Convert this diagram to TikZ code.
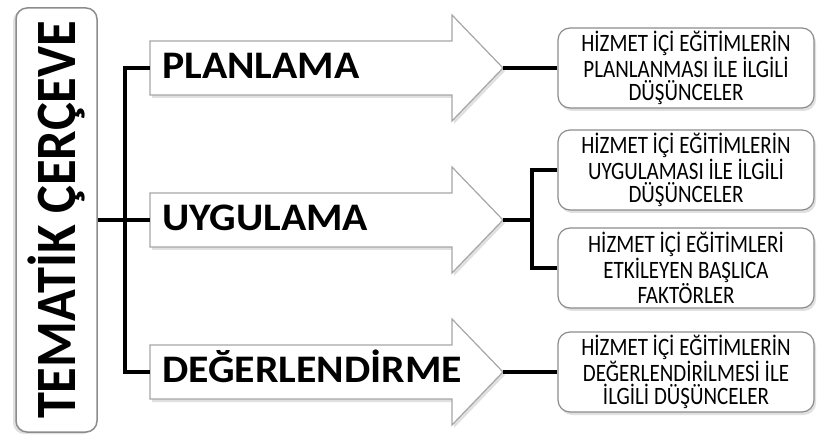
\documentclass[tikz,border=0pt]{standalone}
\usepackage{fontspec}
\setmainfont{Carlito}
\newfontfamily\stagefont[FakeStretch=1.07]{Carlito}
\newfontfamily\needfont[FakeStretch=0.84]{Carlito}
\newfontfamily\themefont[FakeStretch=0.92]{Carlito}
\usetikzlibrary{shadows}

% one big arrow: name, centre y, text
\newcommand{\stage}[3]{%
  \draw[stagearrow] (150,#2-27) -- (452,#2-27) -- (452,#2-53) -- (503,#2)
    -- (452,#2+53) -- (452,#2+27) -- (150,#2+27) -- cycle;
  \node[stagetext] (#1) at (162,#2+11) {#3};
  \coordinate (#1-tail) at (150,#2);
  \coordinate (#1-tip) at (503,#2);}

\tikzset{
  link/.style={line width=4pt, black},
  boxshadow/.style={drop shadow={shadow xshift=2pt, shadow yshift=-3pt, fill=black!40, opacity=0.3}},
  stagearrow/.style={draw=black!35, line width=1.2pt, fill=white, boxshadow},
  stagetext/.style={anchor=base west, inner sep=0pt, font=\stagefont\bfseries\fontsize{39}{44}\selectfont},
  needbox/.style={draw=black!45, line width=1.2pt, fill=white, rounded corners=12pt,
    minimum width=256pt, minimum height=80pt, align=center, boxshadow,
    font=\needfont\fontsize{25}{23}\selectfont},
  themebox/.style={draw=black!45, line width=1.5pt, fill=white, rounded corners=11pt,
    minimum width=424pt, minimum height=81pt, rotate=90,
    drop shadow={shadow xshift=-3pt, shadow yshift=-2pt, fill=black!40, opacity=0.3},
    font=\themefont\bfseries\fontsize{57}{60}\selectfont}
}

\begin{document}
\begin{tikzpicture}[x=1pt, y=-1pt]
\useasboundingbox (0,0) rectangle (817,438);

\node[themebox] (theme) at (56.5,220) {TEMATİK ÇERÇEVE};

\stage{plan}{68}{PLANLAMA}
\stage{uyg}{220}{UYGULAMA}
\stage{deg}{372}{DEĞERLENDİRME}

\node[needbox] (need1) at (686,68) {HİZMET İÇİ EĞİTİMLERİN\\PLANLANMASI İLE İLGİLİ\\DÜŞÜNCELER};
\node[needbox] (need2) at (686,170) {HİZMET İÇİ EĞİTİMLERİN\\UYGULAMASI İLE İLGİLİ\\DÜŞÜNCELER};
\node[needbox] (need3) at (686,268) {HİZMET İÇİ EĞİTİMLERİ\\ETKİLEYEN BAŞLICA\\FAKTÖRLER};
\node[needbox] (need4) at (686,372) {HİZMET İÇİ EĞİTİMLERİN\\DEĞERLENDİRİLMESİ İLE\\İLGİLİ DÜŞÜNCELER};

% left tree
\coordinate (trunk) at (125,220);
\draw[link] (theme) -- (uyg-tail);
\draw[link] (plan-tail) -| (trunk) |- (deg-tail);

% right tree
\coordinate (fork) at (532,220);
\draw[link] (plan-tip) -- (need1);
\draw[link] (uyg-tip) -- (fork);
\draw[link] (need2) -| (fork) |- (need3);
\draw[link] (deg-tip) -- (need4);
\end{tikzpicture}
\end{document}
